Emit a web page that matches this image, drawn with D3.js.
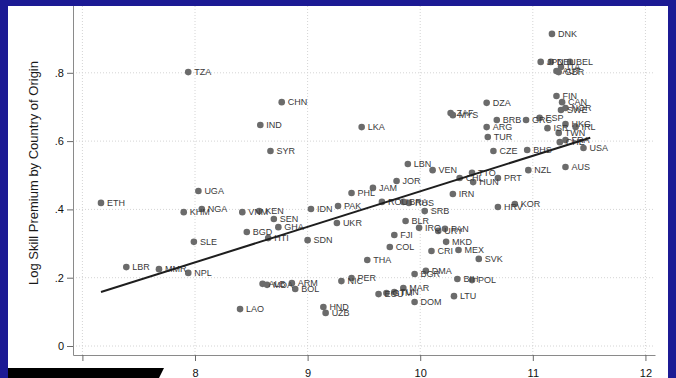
<!DOCTYPE html>
<html>
<head>
<meta charset="utf-8">
<script src="https://cdn.jsdelivr.net/npm/d3@7"></script>
<style>
  html, body { margin: 0; padding: 0; background: #1c1a94; }
  svg { display: block; }
</style>
</head>
<body>
<svg id="chart" width="676" height="378"></svg>
<script>
// Country codes, log GDP per capita (x) and log skill premium (y)
const countries = ["DNK","JPN","DEU","BEL","ITA","AUT","GBR","TZA","FIN","CAN","SWE","NOR","CHN","DZA","ZAF","MYS","BRB","GRC","ESP","ISR","HKG","IRL","IND","LKA","ARG","TUR","TWN","CHE","FRA","USA","SYR","CZE","BHS","LBN","VEN","CHL","TTO","HUN","NZL","AUS","PRT","JAM","JOR","PHL","IRN","ETH","UGA","KHM","NGA","VNM","KEN","IDN","PAK","ROU","BRA","RUS","SRB","HRV","KOR","SEN","UKR","BLR","GHA","BGD","HTI","SDN","FJI","IRQ","URY","PAN","MKD","SLE","COL","CRI","MEX","THA","SVK","BGR","DMA","LBR","MMR","NPL","BIH","POL","PER","NIC","ALB","MDA","ARM","BOL","MAR","ECU","GTM","TUN","LTU","DOM","LAO","HND","UZB"];
const logGdp = [11.17,11.07,11.16,11.33,11.25,11.21,11.23,7.94,11.21,11.26,11.25,11.29,8.77,10.59,10.27,10.29,10.68,10.94,11.06,11.13,11.29,11.38,8.58,9.48,10.59,10.60,11.23,11.24,11.29,11.45,8.67,10.65,10.95,9.89,10.11,10.35,10.46,10.47,10.96,11.29,10.69,9.58,9.79,9.39,10.29,7.165,8.03,7.90,8.06,8.42,8.57,9.03,9.27,9.66,9.85,9.90,10.04,10.69,10.84,8.70,9.26,9.87,8.74,8.46,8.65,9.00,9.77,9.99,10.16,10.22,10.23,7.99,9.73,10.10,10.34,9.53,10.52,9.95,10.05,7.39,7.68,7.94,10.33,10.46,9.39,9.30,8.60,8.64,8.86,8.89,9.85,9.63,9.70,9.77,10.30,9.95,8.40,9.14,9.16];
const skillPremium = [0.914,0.832,0.832,0.832,0.817,0.805,0.802,0.802,0.732,0.714,0.691,0.697,0.714,0.712,0.682,0.676,0.662,0.662,0.668,0.638,0.650,0.641,0.647,0.641,0.641,0.612,0.624,0.597,0.603,0.580,0.571,0.571,0.574,0.533,0.515,0.492,0.507,0.480,0.515,0.524,0.492,0.463,0.483,0.448,0.445,0.419,0.454,0.392,0.401,0.392,0.395,0.401,0.410,0.422,0.422,0.419,0.395,0.407,0.416,0.372,0.360,0.366,0.348,0.334,0.316,0.310,0.325,0.346,0.337,0.343,0.305,0.305,0.290,0.278,0.281,0.252,0.255,0.211,0.220,0.231,0.225,0.214,0.196,0.193,0.199,0.190,0.182,0.179,0.184,0.167,0.170,0.152,0.155,0.158,0.146,0.129,0.108,0.114,0.097];

// Fitted line endpoints (log GDP, predicted premium)
const fitX = [7.165, 11.51];
const fitY = [0.158, 0.61];

// Axis ticks
const xTicks = [7, 8, 9, 10, 11, 12];
const xTickLabels = ["7", "8", "9", "10", "11", "12"];
const yTicks = [0, 0.2, 0.4, 0.6, 0.8, 1];
const yTickLabels = ["0", ".2", ".4", ".6", ".8", ""];
const yTitle = "Log Skill Premium by Country of Origin";

const svg = d3.select("#chart");
const font = "'Liberation Sans', Arial, Helvetica, sans-serif";

// White graph region inside the frame
svg.append("rect").attr("x", 8).attr("y", 6).attr("width", 660).attr("height", 372).attr("fill", "#ffffff");

const x = d3.scaleLinear().domain([6.9165, 12.085]).range([73, 655]);
const y = d3.scaleLinear().domain([-0.02635, 1.0132]).range([355, 0]);

// Dotted grid
const grid = svg.append("g");
grid.selectAll("line.v").data(xTicks).join("line")
  .attr("x1", d => x(d)).attr("x2", d => x(d))
  .attr("y1", y.range()[1]).attr("y2", y.range()[0])
  .attr("stroke", "#d4d4d4").attr("stroke-width", 1).attr("stroke-dasharray", "1,2");
grid.selectAll("line.h").data(yTicks).join("line")
  .attr("y1", d => y(d)).attr("y2", d => y(d))
  .attr("x1", x.range()[0]).attr("x2", x.range()[1])
  .attr("stroke", "#d4d4d4").attr("stroke-width", 1).attr("stroke-dasharray", "1,2");

// Axes
const xAxis = svg.append("g").attr("transform", `translate(0,${y.range()[0]})`)
  .call(d3.axisBottom(x).tickValues(xTicks).tickSize(6).tickSizeOuter(0)
    .tickFormat((d, i) => xTickLabels[i]));
const yAxis = svg.append("g").attr("transform", `translate(${x.range()[0]},0)`)
  .call(d3.axisLeft(y).tickValues(yTicks).tickSize(6).tickSizeOuter(0)
    .tickFormat((d, i) => yTickLabels[i]));
[xAxis, yAxis].forEach(g => {
  g.select(".domain").attr("stroke", "#8a8a8a");
  g.selectAll(".tick line").attr("stroke", "#6a6a6a");
  g.selectAll(".tick text").attr("fill", "#111").style("font-family", font).style("font-size", "11px");
});
xAxis.selectAll(".tick text").attr("dy", "0.95em").attr("y", 11.5);
yAxis.selectAll(".tick text").attr("x", -9);

svg.append("text")
  .attr("transform", "translate(38,173) rotate(-90)")
  .attr("text-anchor", "middle")
  .style("font-family", font).style("font-size", "13px").attr("fill", "#1a1a1a")
  .text(yTitle);

// Scatter points with country labels
const pts = countries.map((c, i) => ({ c, gx: logGdp[i], sp: skillPremium[i] }));
const pg = svg.append("g");
pg.selectAll("circle").data(pts).join("circle")
  .attr("cx", d => x(d.gx)).attr("cy", d => y(d.sp)).attr("r", 3.3)
  .attr("fill", "#6b6b6b");
pg.selectAll("text").data(pts).join("text")
  .attr("x", d => x(d.gx) + 6).attr("y", d => y(d.sp)).attr("dy", "0.36em")
  .style("font-family", font).style("font-size", "9px").attr("fill", "#3a3a3a")
  .text(d => d.c);

// Fitted line
svg.append("line")
  .attr("x1", x(fitX[0])).attr("y1", y(fitY[0]))
  .attr("x2", x(fitX[1])).attr("y2", y(fitY[1]))
  .attr("stroke", "#1e1e1e").attr("stroke-width", 2);

// Frame
const frame = "#1c1a94";
svg.append("rect").attr("x", 0).attr("y", 0).attr("width", 676).attr("height", 6).attr("fill", frame);
svg.append("rect").attr("x", 0).attr("y", 0).attr("width", 8).attr("height", 378).attr("fill", frame);
svg.append("rect").attr("x", 668).attr("y", 0).attr("width", 8).attr("height", 378).attr("fill", frame);

// Caption tab in the lower-left corner
svg.append("path").attr("d", "M8,368 L164,368 L159,378 L8,378 Z").attr("fill", "#000");
</script>
</body>
</html>
